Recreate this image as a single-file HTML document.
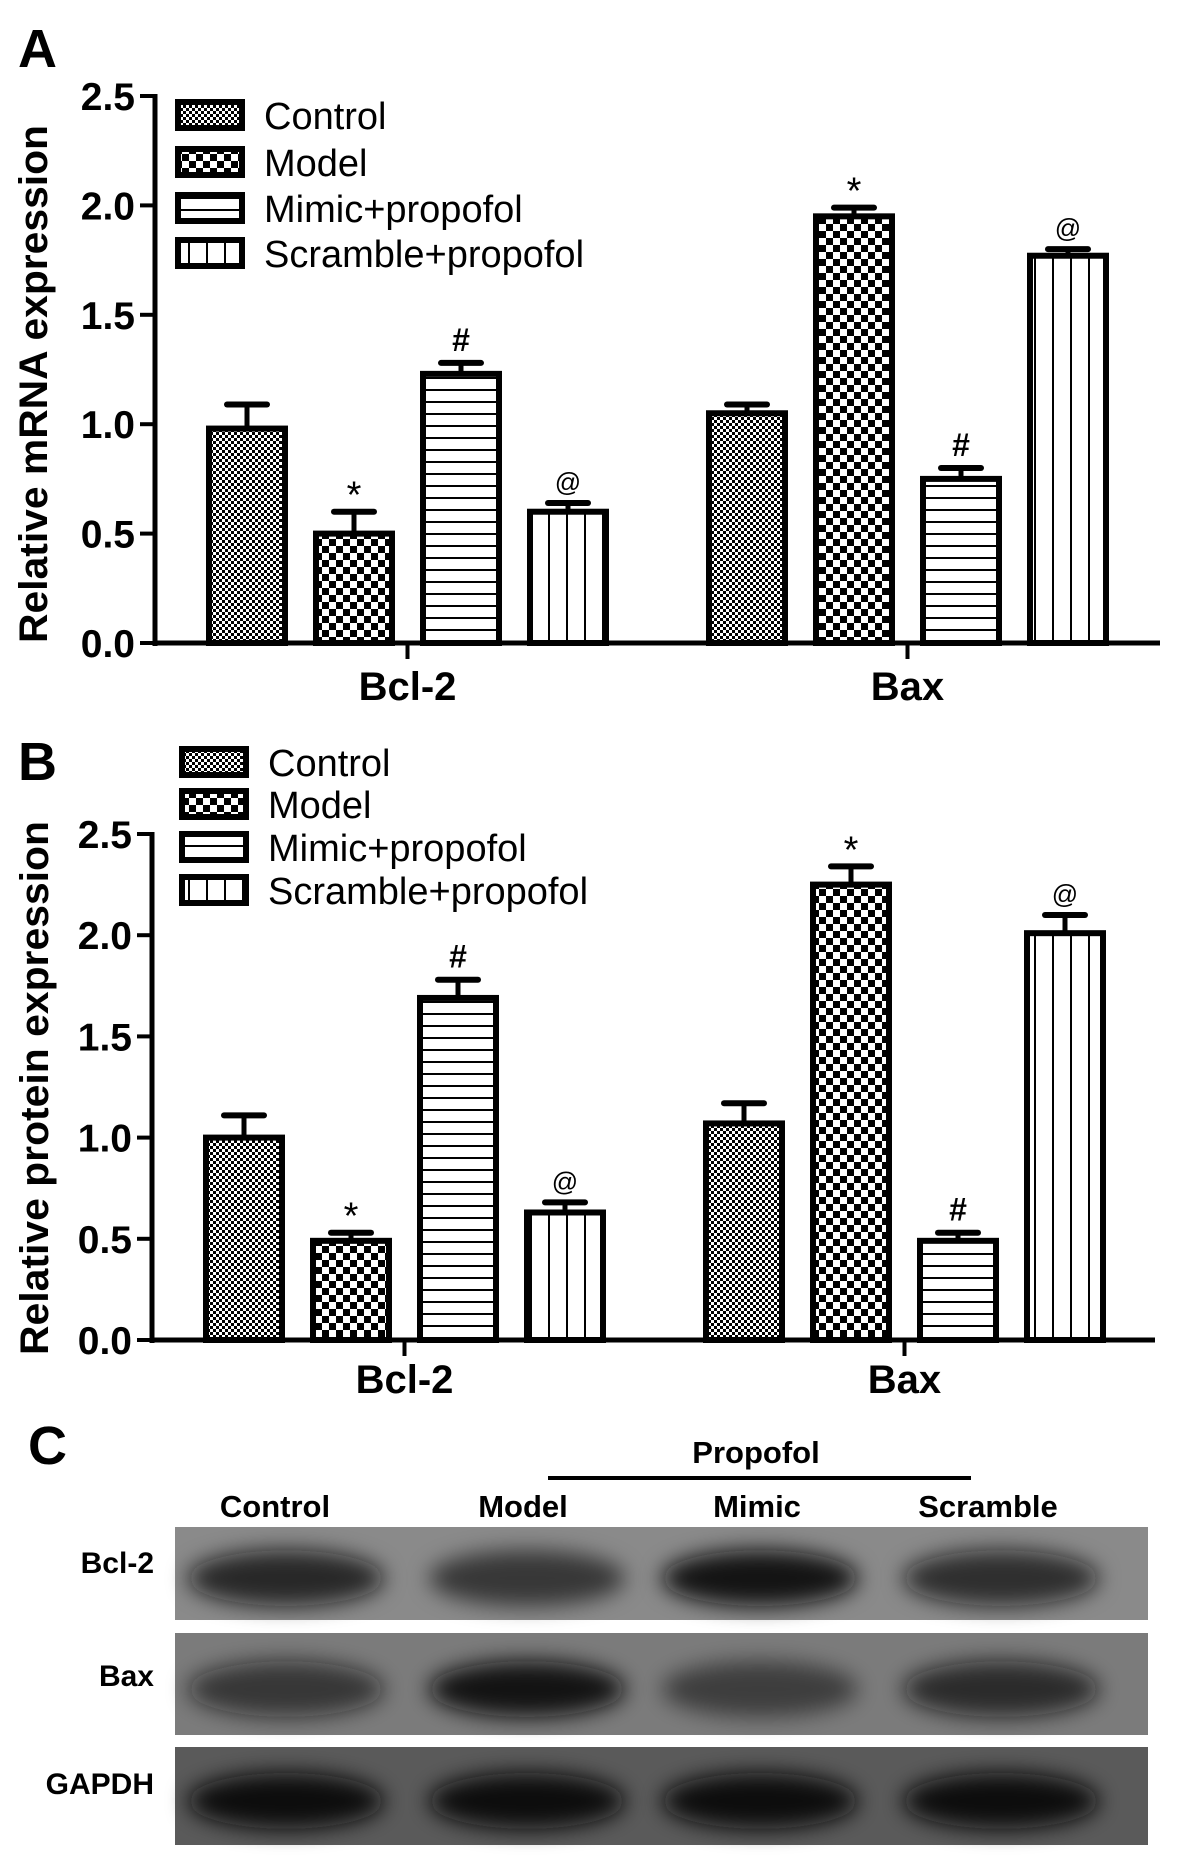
<!DOCTYPE html>
<html><head><meta charset="utf-8"><style>
html,body{margin:0;padding:0;background:#fff;}
svg{display:block;font-family:"Liberation Sans",Arial,sans-serif;}
</style></head><body>
<svg id="fig" width="1181" height="1870" viewBox="0 0 1181 1870" xmlns="http://www.w3.org/2000/svg">
<defs>
<pattern id="pCtrl" width="6" height="6" patternUnits="userSpaceOnUse"><rect width="6" height="6" fill="#fff"/><rect width="3" height="3" fill="#000"/><rect x="3" y="3" width="3" height="3" fill="#000"/></pattern>
<pattern id="pModel" width="14" height="14" patternUnits="userSpaceOnUse"><rect width="14" height="14" fill="#fff"/><rect width="7" height="7" fill="#000"/><rect x="7" y="7" width="7" height="7" fill="#000"/></pattern>
<pattern id="pMimic" width="12" height="12" patternUnits="userSpaceOnUse"><rect width="12" height="12" fill="#fff"/><rect y="5" width="12" height="2" fill="#000"/></pattern>
<pattern id="pScr" width="18" height="18" patternUnits="userSpaceOnUse"><rect width="18" height="18" fill="#fff"/><rect x="8" width="2" height="18" fill="#000"/></pattern>
<filter id="blur" x="-50%" y="-80%" width="200%" height="260%"><feGaussianBlur stdDeviation="11"/></filter>
</defs>
<g id="chartA"></g>
<g id="chartB"></g>
<g id="blot"></g>
</svg>
<script>
const NS="http://www.w3.org/2000/svg";
const groups=["Bcl-2","Bax"];
const seriesNames=["Control","Model","Mimic+propofol","Scramble+propofol"];
const seriesFills=["url(#pCtrl)","url(#pModel)","url(#pMimic)","url(#pScr)"];
const yTicks=["0.0","0.5","1.0","1.5","2.0","2.5"];
const mrnaBcl2=[0.98,0.50,1.23,0.60];
const mrnaBcl2Err=[0.11,0.10,0.05,0.04];
const mrnaBax=[1.05,1.95,0.75,1.77];
const mrnaBaxErr=[0.04,0.04,0.05,0.03];
const mrnaMarks=["","*","#","@"];
const protBcl2=[1.00,0.49,1.69,0.63];
const protBcl2Err=[0.11,0.04,0.09,0.05];
const protBax=[1.07,2.25,0.49,2.01];
const protBaxErr=[0.10,0.09,0.04,0.09];
const protMarks=["","*","#","@"];
const blotLanes=["Control","Model","Mimic","Scramble"];
const blotRows=["Bcl-2","Bax","GAPDH"];
const bandBcl2=[0.8,0.6,0.95,0.75];
const bandBax=[0.65,0.95,0.5,0.75];
const bandGapdh=[1,1,1,1];

function el(tag,attrs,parent,text){const e=document.createElementNS(NS,tag);for(const k in attrs)e.setAttribute(k,attrs[k]);if(text!==undefined)e.textContent=text;parent.appendChild(e);return e;}

function drawChart(g,cfg){
  const y=v=>cfg.y0-(v/2.5)*(cfg.y0-cfg.yTop);
  const barX=(gi,si)=>cfg.groupStart[gi]+si*107;
  const bw=76;
  const L=el("text",{x:cfg.lx,y:cfg.ly,"font-size":54,"font-weight":"bold"},g,cfg.letter);
  
  
  const t=el("text",{transform:`translate(${cfg.titleX},${cfg.titleY}) rotate(-90)`,"text-anchor":"middle","font-size":40,"font-weight":"bold",textLength:cfg.titleLen,lengthAdjust:"spacingAndGlyphs"},g,cfg.title);
  
  
  const ya=el("line",{x1:cfg.ax,y1:y(2.5)-2,x2:cfg.ax,y2:cfg.y0+3,stroke:"#000","stroke-width":5},g);
  
  
  const xa=el("line",{x1:cfg.ax-2,y1:cfg.y0,x2:cfg.axEnd,y2:cfg.y0,stroke:"#000","stroke-width":5},g);
  
  
  yTicks.forEach(lbl=>{
    const v=parseFloat(lbl);
    el("line",{x1:cfg.ax-15,y1:y(v),x2:cfg.ax,y2:y(v),stroke:"#000","stroke-width":4},g);
    const tx=el("text",{x:cfg.ax-20,y:y(v)+14,"text-anchor":"end","font-size":39,"font-weight":"bold"},g,lbl);
    
    
  });
  groups.forEach((gn,gi)=>{
    const cx=barX(gi,0)+(3*107+bw)/2;
    el("line",{x1:cx,y1:cfg.y0,x2:cx,y2:cfg.y0+16,stroke:"#000","stroke-width":4},g);
    const gl=el("text",{x:cx,y:cfg.gly,"text-anchor":"middle","font-size":40,"font-weight":"bold"},g,gn);
    
    
    const vals=gi===0?cfg.v0:cfg.v1, errs=gi===0?cfg.e0:cfg.e1;
    vals.forEach((v,si)=>{
      const x=barX(gi,si), top=y(v), et=y(v+errs[si]), mid=x+bw/2;
      const eb=el("line",{x1:mid,y1:top,x2:mid,y2:et,stroke:"#000","stroke-width":5},g);
      
      
      el("line",{x1:mid-20,y1:et,x2:mid+20,y2:et,stroke:"#000","stroke-width":6,"stroke-linecap":"round"},g);
      const r=el("rect",{x:x,y:top,width:bw,height:cfg.y0-top,fill:seriesFills[si],stroke:"#000","stroke-width":6},g);
      
      
      if(cfg.marks[si]){
        const mk=cfg.marks[si];
        const m=el("text",{x:mid,y:et-(mk==="*"?4:12),"text-anchor":"middle","font-size":mk==="@"?26:(mk==="*"?38:32),"font-weight":mk==="#"?"bold":"normal"},g,mk);
        
        
      }
    });
  });
  seriesNames.forEach((n,si)=>{
    const ly=cfg.legY[si];
    const b=el("rect",{x:cfg.legX,y:ly-13,width:64,height:26,fill:seriesFills[si],stroke:"#000","stroke-width":6},g);
    
    
    const lt=el("text",{x:cfg.legX+86,y:ly+14,"font-size":38},g,n);
    
    
  });
}

drawChart(document.getElementById("chartA"),{letter:"A",lx:18,ly:67,title:"Relative mRNA expression",titleX:47,titleY:384,titleLen:518,
 ax:155,axEnd:1160,y0:643,yTop:96,groupStart:[209,709],gly:700,v0:mrnaBcl2,e0:mrnaBcl2Err,v1:mrnaBax,e1:mrnaBaxErr,marks:mrnaMarks,
 legX:178,legY:[115,162,208,253]});
drawChart(document.getElementById("chartB"),{letter:"B",lx:18,ly:780,title:"Relative protein expression",titleX:48,titleY:1088,titleLen:534,
 ax:152,axEnd:1155,y0:1340,yTop:834,groupStart:[206,706],gly:1393,v0:protBcl2,e0:protBcl2Err,v1:protBax,e1:protBaxErr,marks:protMarks,
 legX:182,legY:[762,804,847,890]});

const bg=document.getElementById("blot");
const C=el("text",{x:28,y:1464,"font-size":54,"font-weight":"bold"},bg,"C");


const pp=el("text",{x:756,y:1463,"text-anchor":"middle","font-size":31,"font-weight":"bold"},bg,"Propofol");


el("line",{x1:548,y1:1478,x2:971,y2:1478,stroke:"#000","stroke-width":4},bg);
const laneX=[275,523,757,988];
blotLanes.forEach((n,i)=>{
  const t=el("text",{x:laneX[i],y:1517,"text-anchor":"middle","font-size":31,"font-weight":"bold"},bg,n);
  
  
});
const rowY=[1527,1633,1747], rowH=[93,102,98], rowBg=["#8a8a8a","#7b7b7b","#5a5a5a"];
const bandX=[286,527,760,1001];
const bandSets=[bandBcl2,bandBax,bandGapdh];
const rowLblY=[1573,1686,1794];
blotRows.forEach((n,ri)=>{
  const lbl=el("text",{x:154,y:rowLblY[ri],"text-anchor":"end","font-size":30,"font-weight":"bold"},bg,n);
  
  
  const r=el("rect",{x:175,y:rowY[ri],width:973,height:rowH[ri],fill:rowBg[ri]},bg);
  
  
  const cy=rowY[ri]+rowH[ri]*0.55;
  bandSets[ri].forEach((v,li)=>{
    const b=el("ellipse",{cx:bandX[li],cy:cy,rx:98,ry:28,fill:"#0a0a0a","fill-opacity":v,filter:"url(#blur)"},bg);
    
    
  });
});
</script>
</body></html>
